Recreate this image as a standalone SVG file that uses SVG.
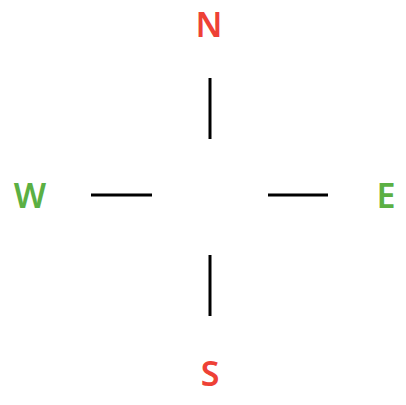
<svg xmlns="http://www.w3.org/2000/svg" width="406" height="405" viewBox="0 0 406 405">
<style>
.lbl{font-family:"Noto Sans","Open Sans",sans-serif;font-size:34px;font-weight:600;text-anchor:middle}
.ns{fill:#ee4136}
.ew{fill:#5bb043}
.c line{stroke:#000;stroke-width:3}
</style>
<rect width="406" height="405" fill="#fff"/>
<g id="connectors" class="c">
<line x1="210" y1="78" x2="210" y2="139"/>
<line x1="91" y1="195" x2="152" y2="195"/>
<line x1="268" y1="195" x2="328" y2="195"/>
<line x1="210" y1="255" x2="210" y2="316"/>
</g>
<g id="N"><text class="lbl ns" x="209" y="37">N</text></g>
<g id="W"><text class="lbl ew" x="30" y="208">W</text></g>
<g id="E"><text class="lbl ew" x="386" y="208">E</text></g>
<g id="S"><text class="lbl ns" x="210" y="386">S</text></g>
</svg>
